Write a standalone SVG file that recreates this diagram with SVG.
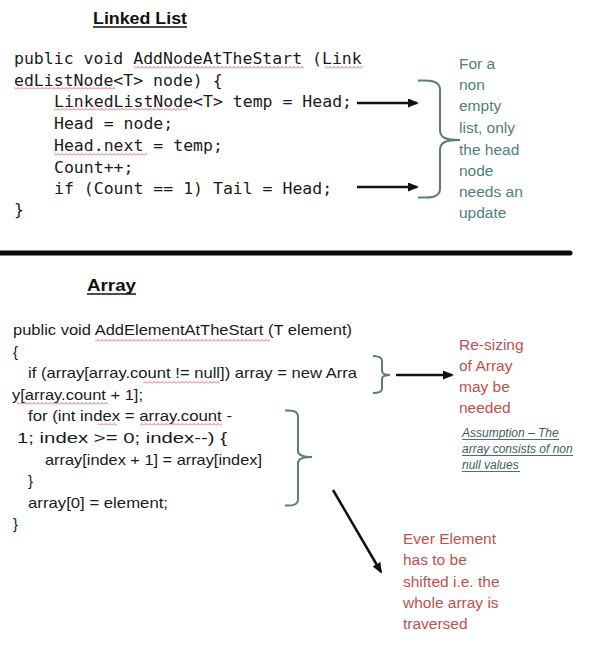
<svg xmlns="http://www.w3.org/2000/svg" width="612" height="672" viewBox="0 0 612 672">
<style>
.title{font-family:"Liberation Sans",Arial,sans-serif;font-weight:bold;font-size:16px;fill:#111}
.mono{font-family:"DejaVu Sans Mono","Liberation Mono",monospace;font-size:16.5px;fill:#1a1a1a}
.code{font-family:"Liberation Sans",Arial,sans-serif;font-size:15px;fill:#1a1a1a}
.note{font-family:"Liberation Sans",Arial,sans-serif;font-size:15.5px}
.teal{fill:#4d7f80}
.red{fill:#c0504d}
.assume{font-family:"Liberation Sans",Arial,sans-serif;font-size:12px;font-style:italic;fill:#3d5f60}
.brace{fill:none;stroke:#5b7c7c;stroke-width:2}
.arrow{fill:none;stroke:#111;stroke-width:2.5;marker-end:url(#ah)}
.ul{stroke:#111;stroke-width:1.5}
.ula{stroke:#3d5f60;stroke-width:0.9}
</style>
<defs>
<marker id="ah" markerUnits="userSpaceOnUse" markerWidth="11" markerHeight="9" refX="9" refY="4.5" orient="auto">
<path d="M0,0 L11,4.5 L0,9 z" fill="#111"/>
</marker>
<pattern id="sq" patternUnits="userSpaceOnUse" width="4" height="3">
<path d="M0,2.5 L2,0.5 L4,2.5" fill="none" stroke="#d04444" stroke-width="0.8"/>
</pattern>
</defs>
<rect width="612" height="672" fill="#fff"/>

<g id="linked-list-title">
<text class="title" x="93" y="24" textLength="94" lengthAdjust="spacingAndGlyphs">Linked List</text>
<line class="ul" x1="93" y1="27" x2="187" y2="27"/>
</g>

<g id="linked-list-code">
<text class="mono" x="14" y="64">public void AddNodeAtTheStart (Link</text>
<text class="mono" x="14" y="86">edListNode&lt;T&gt; node) {</text>
<text class="mono" x="54" y="107">LinkedListNode&lt;T&gt; temp = Head;</text>
<text class="mono" x="54" y="129">Head = node;</text>
<text class="mono" x="54" y="151">Head.next = temp;</text>
<text class="mono" x="54" y="173">Count++;</text>
<text class="mono" x="54" y="194">if (Count == 1) Tail = Head;</text>
<text class="mono" x="14" y="215">}</text>
<g fill="url(#sq)">
<rect x="134" y="66" width="170" height="3"/>
<rect x="325" y="66" width="38" height="3"/>
<rect x="14" y="87" width="101" height="3"/>
<rect x="54" y="108" width="134" height="3"/>
<rect x="54" y="153" width="93" height="3"/>
</g>
</g>

<g id="linked-list-note">
<text class="note teal" x="459" y="69">For a</text>
<text class="note teal" x="459" y="90">non</text>
<text class="note teal" x="459" y="111">empty</text>
<text class="note teal" x="459" y="133">list, only</text>
<text class="note teal" x="459" y="155">the head</text>
<text class="note teal" x="459" y="176">node</text>
<text class="note teal" x="459" y="197">needs an</text>
<text class="note teal" x="459" y="218">update</text>
</g>

<g id="separator">
<line x1="-3" y1="253" x2="570" y2="253" stroke="#0a0a0a" stroke-width="5" stroke-linecap="round"/>
</g>

<g id="array-title">
<text class="title" x="87" y="291" textLength="49" lengthAdjust="spacingAndGlyphs">Array</text>
<line class="ul" x1="87" y1="294" x2="136" y2="294"/>
</g>

<g id="array-code">
<text class="code" x="13" y="335" textLength="339" lengthAdjust="spacingAndGlyphs">public void AddElementAtTheStart (T element)</text>
<text class="code" x="13" y="357">{</text>
<text class="code" x="28" y="378" textLength="329" lengthAdjust="spacingAndGlyphs">if (array[array.count != null]) array = new Arra</text>
<text class="code" x="12" y="400" textLength="131" lengthAdjust="spacingAndGlyphs">y[array.count + 1];</text>
<text class="code" x="28" y="421" textLength="204" lengthAdjust="spacingAndGlyphs">for (int index = array.count -</text>
<text class="code" x="17" y="443" textLength="210" lengthAdjust="spacingAndGlyphs">1; index &gt;= 0; index--) {</text>
<text class="code" x="45" y="465" textLength="217" lengthAdjust="spacingAndGlyphs">array[index + 1] = array[index]</text>
<text class="code" x="28" y="486">}</text>
<text class="code" x="28" y="508" textLength="140" lengthAdjust="spacingAndGlyphs">array[0] = element;</text>
<text class="code" x="13" y="529">}</text>
<g fill="url(#sq)">
<rect x="95" y="339" width="175" height="3"/>
<rect x="143" y="381" width="77" height="3"/>
<rect x="17" y="402" width="91" height="3"/>
<rect x="98" y="423" width="19" height="3"/>
<rect x="140" y="423" width="82" height="3"/>
</g>
</g>

<g id="resize-note">
<text class="note red" x="459" y="350">Re-sizing</text>
<text class="note red" x="459" y="371">of Array</text>
<text class="note red" x="459" y="392">may be</text>
<text class="note red" x="459" y="413">needed</text>
</g>

<g id="assumption-note">
<text class="assume" x="462" y="437">Assumption – The</text>
<text class="assume" x="462" y="453">array consists of non</text>
<text class="assume" x="462" y="469">null values</text>
<line class="ula" x1="462" y1="439.5" x2="559" y2="439.5"/>
<line class="ula" x1="462" y1="455.5" x2="573" y2="455.5"/>
<line class="ula" x1="462" y1="471.5" x2="520" y2="471.5"/>
</g>

<g id="shift-note">
<text class="note red" x="403" y="544">Ever Element</text>
<text class="note red" x="403" y="565">has to be</text>
<text class="note red" x="403" y="587">shifted i.e. the</text>
<text class="note red" x="403" y="608">whole array is</text>
<text class="note red" x="403" y="629">traversed</text>
</g>

<g id="connectors">
<path class="brace" d="M418,80.5 C432,80 440,81 440,90 L440,130 C440,138 446,140 460,140 C446,140 440,142 440,150 L440,189 C440,197 432,198 418,197.5"/>
<path class="brace" d="M373,356 C379,356 382,357 382,361 L382,371 C382,374 385,375 390,375 C385,375 382,376 382,379 L382,389 C382,392 379,393 373,393"/>
<path class="brace" d="M285,410.5 C293,410 298,411 298,417 L298,451 C298,455 303,457 312,457 C303,457 298,459 298,463 L298,499 C298,505 293,506 285,505.5"/>
<path class="arrow" d="M357,103 L417,103"/>
<path class="arrow" d="M357,187 L417,187"/>
<path class="arrow" d="M396,375 L452,375"/>
<path class="arrow" d="M333,490 L381,572"/>
</g>
</svg>
